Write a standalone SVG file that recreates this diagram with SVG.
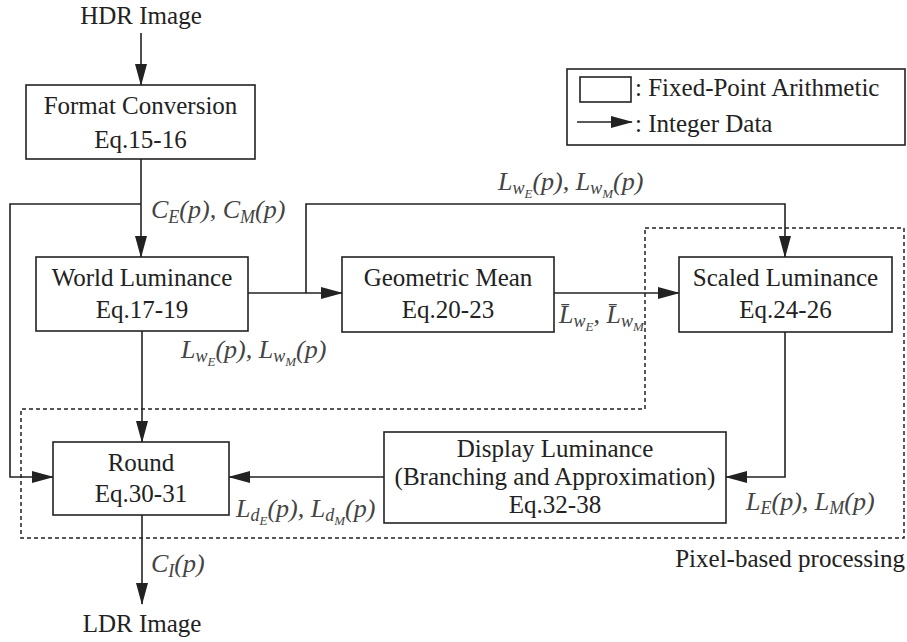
<svg xmlns="http://www.w3.org/2000/svg" width="907" height="642" viewBox="0 0 907 642" font-family="'Liberation Serif', Tinos, 'Times New Roman', serif">
<style>
.box{fill:#fff;stroke:#222;stroke-width:1.6}
text{font-family:'Liberation Serif', Tinos, 'Times New Roman', serif}
.t{font-size:25px;fill:#222;text-anchor:middle}
.tl{font-size:25px;fill:#222}
.m{font-size:26px;font-style:italic;fill:#444}
.s{font-size:18px}
.ss{font-size:13px}
.ln{fill:none;stroke:#222;stroke-width:1.6}
.dash{fill:none;stroke:#222;stroke-width:1.5;stroke-dasharray:4 3}
</style>
<defs>
<marker id="ah" markerWidth="22" markerHeight="12" refX="21" refY="6" orient="auto" markerUnits="userSpaceOnUse">
<path d="M0,0 L22,6 L0,12 Z" fill="#222"/>
</marker>
</defs>

<g id="pixel-region">
<path class="dash" d="M645,228 H904 V538 H21 V409 H645 Z"/>
<text class="tl" x="905" y="567" text-anchor="end">Pixel-based processing</text>
</g>

<g id="connectors">
<line class="ln" x1="141" y1="33" x2="141" y2="85" marker-end="url(#ah)"/>
<line class="ln" x1="141" y1="159" x2="141" y2="257" marker-end="url(#ah)"/>
<polyline class="ln" points="141,204 10,204 10,477 53,477" marker-end="url(#ah)"/>
<line class="ln" x1="248" y1="293" x2="342" y2="293" marker-end="url(#ah)"/>
<polyline class="ln" points="306,293 306,204 785,204 785,257" marker-end="url(#ah)"/>
<line class="ln" x1="554" y1="293" x2="679" y2="293" marker-end="url(#ah)"/>
<line class="ln" x1="142" y1="331" x2="142" y2="442" marker-end="url(#ah)"/>
<polyline class="ln" points="785,332 785,477 726,477" marker-end="url(#ah)"/>
<line class="ln" x1="384" y1="477" x2="229" y2="477" marker-end="url(#ah)"/>
<line class="ln" x1="142" y1="515" x2="142" y2="604" marker-end="url(#ah)"/>

<text class="m" x="151" y="218">C<tspan class="s" dy="5">E</tspan><tspan dy="-5">(p), C</tspan><tspan class="s" dy="5">M</tspan><tspan dy="-5">(p)</tspan></text>
<text class="m" x="498" y="190">L<tspan class="s" dy="4">w</tspan><tspan class="ss" dy="4">E</tspan><tspan dy="-8">(p), L</tspan><tspan class="s" dy="4">w</tspan><tspan class="ss" dy="4">M</tspan><tspan dy="-8">(p)</tspan></text>
<text class="m" x="181" y="358">L<tspan class="s" dy="4">w</tspan><tspan class="ss" dy="4">E</tspan><tspan dy="-8">(p), L</tspan><tspan class="s" dy="4">w</tspan><tspan class="ss" dy="4">M</tspan><tspan dy="-8">(p)</tspan></text>
<text class="m" x="559" y="323">L̄<tspan class="s" dy="4">w</tspan><tspan class="ss" dy="4">E</tspan><tspan dy="-8">, L̄</tspan><tspan class="s" dy="4">w</tspan><tspan class="ss" dy="4">M</tspan></text>
<text class="m" x="236" y="517">L<tspan class="s" dy="4">d</tspan><tspan class="ss" dy="4">E</tspan><tspan dy="-8">(p), L</tspan><tspan class="s" dy="4">d</tspan><tspan class="ss" dy="4">M</tspan><tspan dy="-8">(p)</tspan></text>
<text class="m" x="746" y="510">L<tspan class="s" dy="4">E</tspan><tspan dy="-4">(p), L</tspan><tspan class="s" dy="4">M</tspan><tspan dy="-4">(p)</tspan></text>
<text class="m" x="151" y="572">C<tspan class="s" dy="5">I</tspan><tspan dy="-5">(p)</tspan></text>
</g>

<g id="hdr-image"><text class="t" x="141" y="24">HDR Image</text></g>
<g id="ldr-image"><text class="t" x="142" y="632">LDR Image</text></g>

<g id="format-conversion">
<rect class="box" x="26" y="85" width="229" height="74"/>
<text class="t" x="140.5" y="114">Format Conversion</text>
<text class="t" x="140.5" y="148">Eq.15-16</text>
</g>

<g id="world-luminance">
<rect class="box" x="36" y="257" width="212" height="74"/>
<text class="t" x="142" y="286">World Luminance</text>
<text class="t" x="142" y="318">Eq.17-19</text>
</g>

<g id="geometric-mean">
<rect class="box" x="342" y="257" width="212" height="75"/>
<text class="t" x="448" y="286">Geometric Mean</text>
<text class="t" x="448" y="318">Eq.20-23</text>
</g>

<g id="scaled-luminance">
<rect class="box" x="679" y="257" width="213" height="75"/>
<text class="t" x="785.5" y="286">Scaled Luminance</text>
<text class="t" x="785.5" y="318">Eq.24-26</text>
</g>

<g id="round">
<rect class="box" x="53" y="442" width="176" height="73"/>
<text class="t" x="141" y="471">Round</text>
<text class="t" x="141" y="502">Eq.30-31</text>
</g>

<g id="display-luminance">
<rect class="box" x="384" y="432" width="342" height="91"/>
<text class="t" x="555" y="457">Display Luminance</text>
<text class="t" x="555" y="485">(Branching and Approximation)</text>
<text class="t" x="555" y="513">Eq.32-38</text>
</g>

<g id="legend">
<rect class="box" x="567" y="69" width="338" height="76"/>
<rect class="box" x="580" y="77" width="51" height="25"/>
<text class="tl" x="635" y="96">: Fixed-Point Arithmetic</text>
<line class="ln" x1="577" y1="122" x2="632" y2="122" marker-end="url(#ah)"/>
<text class="tl" x="635" y="132">: Integer Data</text>
</g>
</svg>
